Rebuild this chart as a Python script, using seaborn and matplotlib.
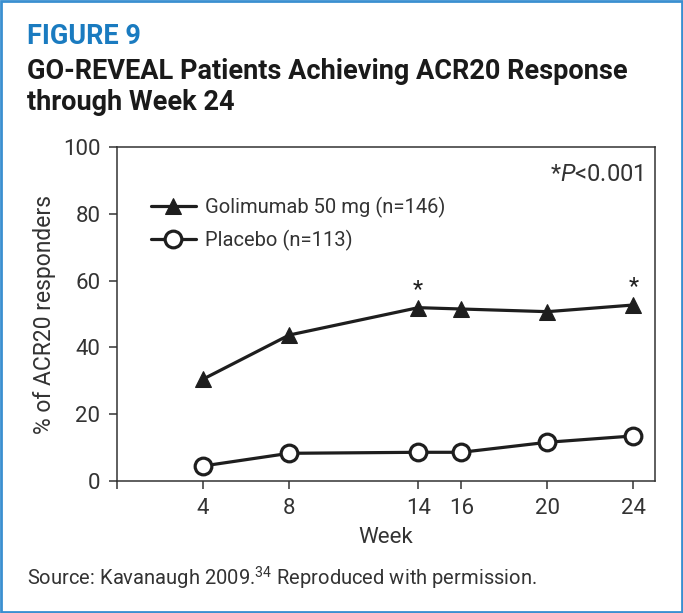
import pandas as pd
import seaborn as sns
import matplotlib.pyplot as plt
from matplotlib.patches import Rectangle

weeks = [4, 8, 14, 16, 20, 24]
golimumab = [30.5, 43.7, 51.9, 51.5, 50.7, 52.7]
placebo = [4.5, 8.3, 8.6, 8.6, 11.6, 13.5]
starred_weeks = [14, 24]
x_ticks = [0, 4, 8, 14, 16, 20, 24]
x_labels = ["", "4", "8", "14", "16", "20", "24"]
y_ticks = [0, 20, 40, 60, 80, 100]

gol_label = "Golimumab 50 mg (n=146)"
pbo_label = "Placebo (n=113)"

sns.set_style("white")
FONT = ["Roboto", "DejaVu Sans"]
plt.rcParams["font.family"] = FONT
plt.rcParams["mathtext.fontset"] = "custom"
plt.rcParams["mathtext.it"] = "Roboto:italic"
plt.rcParams["mathtext.rm"] = "Roboto"

df_gol = pd.DataFrame({"week": weeks, "pct": golimumab})
df_pbo = pd.DataFrame({"week": weeks, "pct": placebo})

fig = plt.figure(figsize=(6.83, 6.13), dpi=100)
ax = fig.add_axes([0.1713, 0.2153, 0.7877, 0.5449])

dark = "#1e1e1e"
txt = "#333333"
sns.lineplot(data=df_gol, x="week", y="pct", ax=ax, color=dark, lw=2.3,
             marker="^", markersize=11, markeredgecolor=dark, label=gol_label)
sns.lineplot(data=df_pbo, x="week", y="pct", ax=ax, color=dark, lw=2.3,
             marker="o", markersize=12, markerfacecolor="white",
             markeredgecolor=dark, markeredgewidth=2.3, label=pbo_label)

for w in starred_weeks:
    v = golimumab[weeks.index(w)]
    ax.annotate("*", (w, v), xytext=(0, 5), textcoords="offset points",
                ha="center", va="bottom", fontsize=17, color=dark)

ax.set_xlim(0, 25)
ax.set_ylim(0, 100)
ax.set_xticks(x_ticks)
ax.set_xticklabels(x_labels)
ax.set_yticks(y_ticks)
ax.tick_params(direction="out", length=6, width=1.1, color="#333333",
               labelsize=16, labelcolor=txt, pad=6, bottom=True, left=True)
for s in ax.spines.values():
    s.set_color("#333333")
    s.set_linewidth(1.1)

ax.set_xlabel("Week", fontsize=16, color=txt, labelpad=6)
ax.set_ylabel("% of ACR20 responders", fontsize=16.5, color=txt, labelpad=5)

leg = ax.legend(loc="upper left", bbox_to_anchor=(0.03, 0.905), frameon=False,
                fontsize=14.5, handlelength=2.2, handletextpad=0.45,
                labelspacing=0.6)
for t in leg.get_texts():
    t.set_color(txt)

fig.text(0.941, 0.715, r"*$P$<0.001", ha="right", va="center",
         fontsize=17, color=txt)

fig.text(0.04, 0.94, "FIGURE 9", ha="left", va="center", fontsize=19.5,
         fontweight="bold", color="#1a7bc0")
fig.text(0.04, 0.883, "GO-REVEAL Patients Achieving ACR20 Response",
         ha="left", va="center", fontsize=19.5, fontweight="bold", color="#1a1a1a")
fig.text(0.04, 0.832, "through Week 24", ha="left", va="center", fontsize=19.5,
         fontweight="bold", color="#1a1a1a")
fig.text(0.04, 0.057,
         r"Source: Kavanaugh 2009.$^{\mathregular{34}}$ Reproduced with permission.",
         ha="left", va="center", fontsize=14.5, color=txt)

fig.patches.append(Rectangle((0.0015, 0.002), 0.997, 0.996, transform=fig.transFigure,
                             fill=False, edgecolor="#3a8fd0", lw=2))

fig.savefig("out.png", dpi=100)
